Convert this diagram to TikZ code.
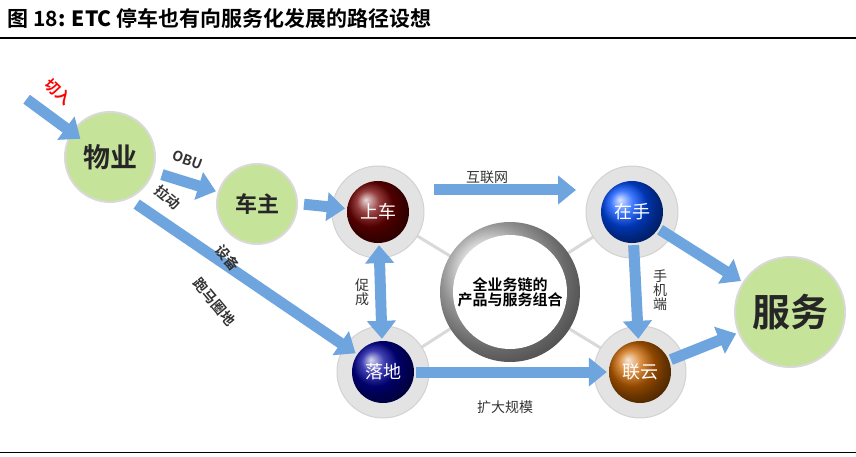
\documentclass[tikz,border=0pt]{standalone}
\usepackage{fontspec}
\setmainfont{Liberation Serif}
\newfontfamily\cjk{Noto Sans CJK SC}
\newfontfamily\cjkb{Noto Sans CJK SC Bold}
\usetikzlibrary{arrows.meta}
\definecolor{arr}{HTML}{4A8ED6}
\definecolor{gr}{HTML}{C6E39A}
\newcommand{\fsz}[1]{\fontsize{#1}{#1}\selectfont}
\tikzset{
 x=1pt,y=-1pt,
 fat/.style={draw=arr!80!white,line width=11pt,-{Triangle[length=18pt,width=28pt]},shorten >=2pt,shorten <=2pt},
 fatb/.style={fat,{Triangle[length=18pt,width=28pt]}-{Triangle[length=18pt,width=28pt]}},
 greenball/.style={circle,fill=gr,draw=gray!30,line width=2pt,text=black!85},
 ring/.style={circle,fill=gray!22,draw=gray!35,line width=1pt},
 darkball/.style={circle,shading=ball,font=\cjk\fsz{18},text=white,minimum size=62pt},
 lbl/.style={font=\cjk\fsz{14},text=black!80},
 rl/.style={font=\cjkb\fsz{14},text=black!80,inner sep=0pt},
}
\begin{document}
\begin{tikzpicture}
\useasboundingbox (0,0) rectangle (856,457);
\node[anchor=west,font=\cjkb\fsz{21}] (t) at (4,18) {图 18\textbf{:} \textbf{ETC} 停车也有向服务化发展的路径设想};
\draw[line width=1.5pt] (0,38) -- (856,38);
\draw[line width=1pt] (0,452) -- (856,452);
% grey X links
\draw[gray!30,line width=3pt] (378,212) -- (640,372) (632,212) -- (383,372);
% rings
\node[ring,minimum size=92pt] (rs) at (378,212) {};
\node[ring,minimum size=92pt] (rz) at (632,212) {};
\node[ring,minimum size=92pt] (rl) at (383,372) {};
\node[ring,minimum size=92pt] (ry) at (640,372) {};
\node[circle,shading=ball,ball color=gray!35,minimum size=140pt] (center) at (510,292) {};
\node[circle,fill=white,minimum size=114pt] at (510,292) {};
\node[font=\cjkb\fsz{15},align=center] (ct) at (510,292) {全业务链的\\产品与服务组合};
\node[darkball,ball color=red!45!black] (sc) at (378,212) {上车};
\node[darkball,ball color=blue!70!cyan] (zs) at (632,212) {在手};
\node[darkball,ball color=blue!60!black] (ld) at (383,372) {落地};
\node[darkball,ball color=orange!80!black] (ly) at (640,372) {联云};
\node[greenball,minimum size=90pt,font=\cjkb\fsz{27}] (wy) at (110,157) {物业};
\node[greenball,minimum size=80pt,font=\cjkb\fsz{22}] (cz) at (257,204) {车主};
\node[greenball,minimum size=110pt,font=\cjkb\fsz{38}] (fw) at (790,312) {服务};
% arrows
\coordinate (in) at (25,98);
\draw[fat] (in) -- (82,140);
\node[font=\cjkb\fsz{15},text=red,rotate=-45,inner sep=0pt] (qr) at (58,92) {切入};
\draw[fat] (160,174) -- (cz);
\node[rl,rotate=-20] (obu) at (188,160) {OBU};
\node[rl,rotate=-40] (ld1) at (168,197) {拉动};
\draw[fat] (135,203) -- (ld);
\node[rl,rotate=-50] at (228,258) {设备};
\node[rl,rotate=-50] at (215,302) {跑马圈地};
\draw[fat] (cz.east) ++(4,0) -- (sc);
\draw[fat] (432,190) -- (578,190);
\node[lbl] at (487,177) {互联网};
\draw[fat] (zs) -- (ly);
\node[lbl,align=center] at (660,290) {手\\机\\端};
\draw[fatb] (sc) -- (ld);
\node[lbl,align=center] at (362,292) {促\\成};
\draw[fat] (ld) -- (ly);
\node[lbl] at (505,407) {扩大规模};
\draw[fat] (zs) -- (fw);
\draw[fat] (ly) -- (fw);
\end{tikzpicture}
\end{document}
